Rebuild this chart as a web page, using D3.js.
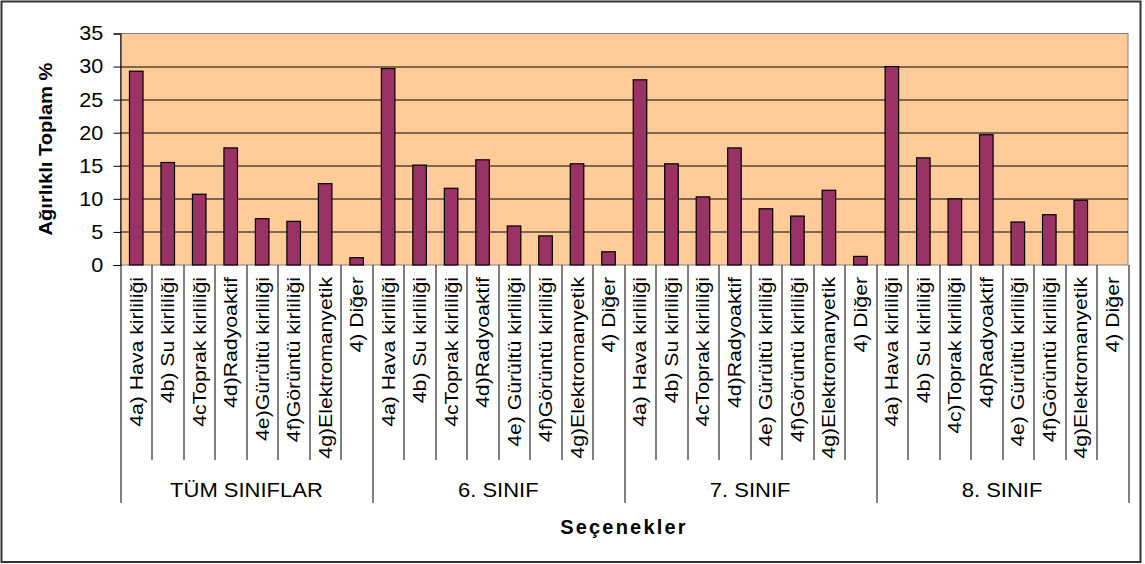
<!DOCTYPE html>
<html>
<head>
<meta charset="utf-8">
<script src="https://cdnjs.cloudflare.com/ajax/libs/d3/7.8.5/d3.min.js"></script>
<style>
body{margin:0;background:#fff;}
svg{display:block;font-family:Arial,"Liberation Sans",sans-serif;}
.grid line{stroke:#000;stroke-width:1;}
.bar{fill:#993366;stroke:#000;stroke-width:1.2;}
.tick-label{font-size:20px;fill:#000;}
.cat-label{font-size:18px;fill:#000;}
.group-label{font-size:20px;fill:#000;}
.title{font-weight:bold;fill:#000;}
</style>
</head>
<body>
<div id="chart"></div>
<script>
//Chart data
var groups = ['TÜM SINIFLAR','6. SINIF','7. SINIF','8. SINIF'];
var catsTum = ['4a) Hava kirliliği','4b) Su kirliliği','4cToprak kirliliği','4d)Radyoaktif','4e)Gürültü kirliliği','4f)Görüntü kirliliği','4g)Elektromanyetik','4) Diğer'];
var cats6 = ['4a) Hava kirliliği','4b) Su kirliliği','4cToprak kirliliği','4d)Radyoaktif','4e) Gürültü kirliliği','4f)Görüntü kirliliği','4g)Elektromanyetik','4) Diğer'];
var cats7 = ['4a) Hava kirliliği','4b) Su kirliliği','4cToprak kirliliği','4d)Radyoaktif','4e) Gürültü kirliliği','4f)Görüntü kirliliği','4g)Elektromanyetik','4) Diğer'];
var cats8 = ['4a) Hava kirliliği','4b) Su kirliliği','4c)Toprak kirliliği','4d)Radyoaktif','4e) Gürültü kirliliği','4f)Görüntü kirliliği','4g)Elektromanyetik','4) Diğer'];
var valTum = [29.3,15.5,10.7,17.7,7.0,6.6,12.3,1.1];
var val6 = [29.7,15.1,11.6,15.9,5.9,4.4,15.3,2.0];
var val7 = [28.0,15.3,10.3,17.7,8.5,7.4,11.3,1.3];
var val8 = [30.0,16.2,10.0,19.7,6.5,7.6,9.8,0];
var yTicks = [0,5,10,15,20,25,30,35];

var W = 1145, H = 564;
var m = {t:33.5,l:120.5,r:17,b:299};
var w = 1128 - m.l, h = 265 - m.t;

//flatten into one row per bar
var catLists = [catsTum,cats6,cats7,cats8],
	valLists = [valTum,val6,val7,val8];
var rows = [];
groups.forEach(function(g,gi){
	catLists[gi].forEach(function(c,ci){
		rows.push({group:g,gi:gi,cat:c,value:valLists[gi][ci],key:gi+'-'+ci});
	});
});

var svg = d3.select('#chart').append('svg')
	.attr('width',W).attr('height',H);

//outer frame
svg.append('rect')
	.attr('x',1.5).attr('y',1.5).attr('width',1139).attr('height',560.5)
	.attr('fill','#fff').attr('stroke','#333').attr('stroke-width',2);

var plot = svg.append('g').attr('transform','translate('+m.l+','+m.t+')');

var scaleX = d3.scaleBand().domain(rows.map(function(d){return d.key})).range([0,w]).padding(0);
var scaleY = d3.scaleLinear().domain([0,35]).range([h,0]);
var step = scaleX.step(), bw = step*0.43;

plot.append('rect')
	.attr('width',w).attr('height',h)
	.attr('fill','#FFCC99').attr('stroke','#808080').attr('stroke-width',1);

//gridlines
plot.append('g').attr('class','grid')
	.selectAll('line')
	.data(yTicks.filter(function(d){return d>0 && d<35}))
	.enter().append('line')
	.attr('x1',0).attr('x2',w)
	.attr('y1',function(d){return Math.round(scaleY(d))+0.5})
	.attr('y2',function(d){return Math.round(scaleY(d))+0.5});

//bars
plot.selectAll('.bar')
	.data(rows.filter(function(d){return d.value>0}))
	.enter().append('rect').attr('class','bar')
	.attr('x',function(d){return scaleX(d.key)+(step-bw)/2})
	.attr('width',bw)
	.attr('y',function(d){return scaleY(d.value)})
	.attr('height',function(d){return h-scaleY(d.value)});

//y axis
var yAxis = d3.axisLeft(scaleY).tickValues(yTicks).tickSize(7).tickPadding(9);
var ya = plot.append('g').call(yAxis);
ya.select('.domain').attr('stroke','#000');
ya.selectAll('.tick line').attr('stroke','#000');
ya.selectAll('.tick text').attr('class','tick-label').attr('font-family',null).attr('font-size',null)
	.attr('transform','scale(1.08,1)');

//category table below the plot
var table = plot.append('g').attr('transform','translate(0,'+h+')');
var catH = 195, grpH = 238;
table.selectAll('.sep')
	.data(d3.range(rows.length+1))
	.enter().append('line').attr('class','sep')
	.attr('x1',function(i){return Math.round(i*step)+0.5})
	.attr('x2',function(i){return Math.round(i*step)+0.5})
	.attr('y1',0)
	.attr('y2',function(i){return i%8===0?grpH:catH})
	.attr('stroke','#000').attr('stroke-width',1);

table.selectAll('.cat-label')
	.data(rows)
	.enter().append('text').attr('class','cat-label')
	.attr('text-anchor','end')
	.attr('transform',function(d){
		return 'translate('+(scaleX(d.key)+step/2+6.5)+',12) rotate(-90) scale(1.18,1)';
	})
	.text(function(d){return d.cat});

table.selectAll('.group-label')
	.data(groups)
	.enter().append('text').attr('class','group-label')
	.attr('text-anchor','middle')
	.attr('transform',function(d,i){
		return 'translate('+((i*8+4)*step)+','+(497-265)+') scale(1.1,1)';
	})
	.text(function(d){return d});

//axis titles
svg.append('text').attr('class','title')
	.attr('text-anchor','middle')
	.attr('font-size',20).attr('letter-spacing',2.2)
	.attr('x',624).attr('y',534)
	.text('Seçenekler');

svg.append('text').attr('class','title')
	.attr('text-anchor','middle')
	.attr('font-size',19)
	.attr('transform','translate(52,149) rotate(-90) scale(1.06,1)')
	.text('Ağırlıklı Toplam %');
</script>
</body>
</html>
